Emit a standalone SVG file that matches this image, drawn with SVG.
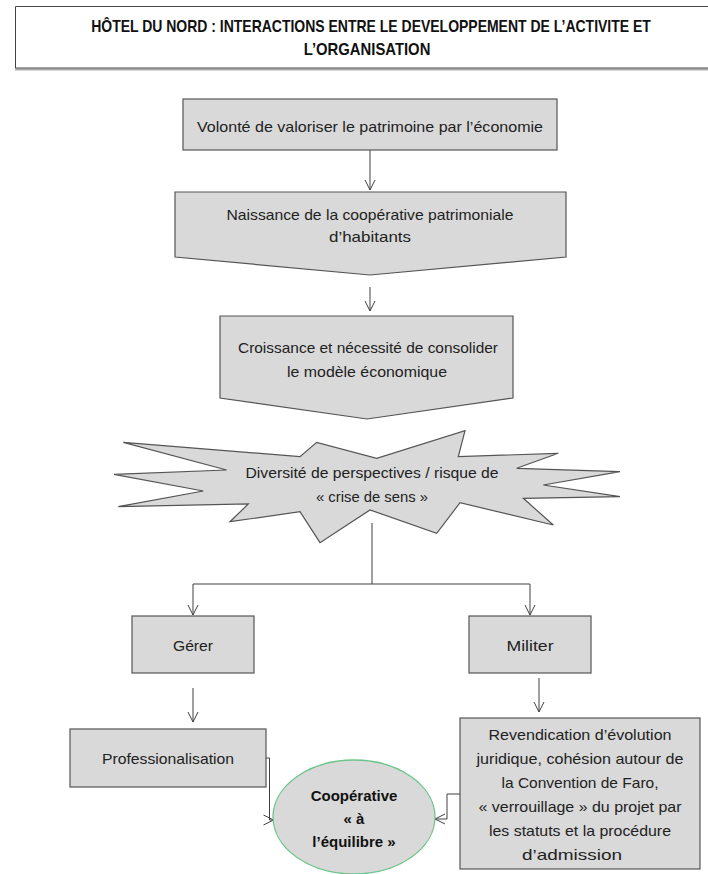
<svg xmlns="http://www.w3.org/2000/svg" width="708" height="874" viewBox="0 0 708 874">
<defs>
<marker id="arr" viewBox="0 0 12 12" refX="11" refY="6" markerWidth="12" markerHeight="12" markerUnits="userSpaceOnUse" orient="auto">
<path d="M1,1 L11,6 L1,11" fill="none" stroke="#404040" stroke-width="1"/>
</marker>
</defs>
<style>
.box{fill:#d9d9d9;stroke:#555;stroke-width:1.2}
.t{font-family:"Liberation Sans",Arial,sans-serif;font-size:15px;fill:#222;text-anchor:middle}
.tb{font-family:"Liberation Sans",Arial,sans-serif;font-size:15px;font-weight:bold;fill:#111;text-anchor:middle}
.title{font-family:"Liberation Sans",Arial,sans-serif;font-size:16.5px;font-weight:bold;fill:#111;text-anchor:middle}
.c{fill:none;stroke:#404040;stroke-width:1}
</style>
<rect width="708" height="874" fill="#fff"/>
<g id="title">
<line x1="15" y1="69.5" x2="708" y2="69.5" stroke="#aaa" stroke-width="2"/>
<path d="M708,6.5 H15.5 V68 H708" fill="none" stroke="#444" stroke-width="1"/>
<text class="title" transform="translate(371 32) scale(0.848 1)" x="0" y="0">HÔTEL DU NORD : INTERACTIONS ENTRE LE DEVELOPPEMENT DE L’ACTIVITE ET</text>
<text class="title" transform="translate(367 55) scale(0.9 1)" x="0" y="0">L’ORGANISATION</text>
</g>
<g id="connectors">
<line class="c" x1="370" y1="150" x2="370" y2="190" marker-end="url(#arr)"/>
<line class="c" x1="370" y1="287" x2="370" y2="311" marker-end="url(#arr)"/>
<polyline class="c" points="372,523 372,584"/>
<polyline class="c" points="193,584 530,584"/>
<line class="c" x1="193" y1="584" x2="193" y2="615" marker-end="url(#arr)"/>
<line class="c" x1="530" y1="584" x2="530" y2="615" marker-end="url(#arr)"/>
<line class="c" x1="193" y1="688" x2="193" y2="722" marker-end="url(#arr)"/>
<line class="c" x1="539" y1="678" x2="539" y2="712" marker-end="url(#arr)"/>
<polyline class="c" points="266,758 269.5,758 269.5,820 273.5,820" marker-end="url(#arr)"/>
<polyline class="c" points="460,794 447,794 447,819 435,819" marker-end="url(#arr)"/>
</g>
<g id="n1">
<rect class="box" x="183" y="99" width="374" height="51"/>
<text class="t" x="370" y="132" textLength="346" lengthAdjust="spacingAndGlyphs">Volonté de valoriser le patrimoine par l’économie</text>
</g>
<g id="n2">
<polygon class="box" points="175,192 566,192 566,257 370,275 175,257"/>
<text class="t" x="370" y="220" textLength="287" lengthAdjust="spacingAndGlyphs">Naissance de la coopérative patrimoniale</text>
<text class="t" x="370" y="242" textLength="82" lengthAdjust="spacingAndGlyphs">d’habitants</text>
</g>
<g id="n3">
<polygon class="box" points="220,316 513,316 513,398 367,419 220,398"/>
<text class="t" x="368" y="353" textLength="260" lengthAdjust="spacingAndGlyphs">Croissance et nécessité de consolider</text>
<text class="t" x="367" y="377" textLength="160" lengthAdjust="spacingAndGlyphs">le modèle économique</text>
</g>
<g id="n4">
<polygon class="box" points="123.3,442.3 300,456.7 316.7,442.3 376.7,458.3 465,430.7 458.3,456.7 558.3,453.3 516.7,468.3 620,471.7 543.3,485 620,496.7 523.3,498.3 553.3,525 460,502.7 436.7,533.3 370,510 320,542.7 300,511.7 230,521.7 248.3,504 118.3,506.7 203.3,491 114,474.3 226.7,470"/>
<text class="t" x="372" y="478" textLength="253" lengthAdjust="spacingAndGlyphs">Diversité de perspectives / risque de</text>
<text class="t" x="372" y="502" textLength="112" lengthAdjust="spacingAndGlyphs">« crise de sens »</text>
</g>
<g id="n5">
<rect class="box" x="132" y="616" width="122" height="57"/>
<text class="t" x="193" y="651" textLength="40" lengthAdjust="spacingAndGlyphs">Gérer</text>
</g>
<g id="n6">
<rect class="box" x="469" y="616" width="122" height="57"/>
<text class="t" x="530" y="651" textLength="47" lengthAdjust="spacingAndGlyphs">Militer</text>
</g>
<g id="n7">
<rect class="box" x="70" y="729" width="196" height="58"/>
<text class="t" x="168" y="764" textLength="132" lengthAdjust="spacingAndGlyphs">Professionalisation</text>
</g>
<g id="n8">
<rect class="box" x="460" y="718" width="240" height="151"/>
<text class="t" x="580" y="740" textLength="183" lengthAdjust="spacingAndGlyphs">Revendication d’évolution</text>
<text class="t" x="580" y="764" textLength="207" lengthAdjust="spacingAndGlyphs">juridique, cohésion autour de</text>
<text class="t" x="580" y="788" textLength="157" lengthAdjust="spacingAndGlyphs">la Convention de Faro,</text>
<text class="t" x="580" y="812" textLength="203" lengthAdjust="spacingAndGlyphs">« verrouillage » du projet par</text>
<text class="t" x="580" y="836" textLength="182" lengthAdjust="spacingAndGlyphs">les statuts et la procédure</text>
<text class="t" x="572" y="860" textLength="100" lengthAdjust="spacingAndGlyphs">d’admission</text>
</g>
<g id="n9">
<ellipse cx="354" cy="817" rx="81" ry="57" fill="#d9d9d9" stroke="#6cc58a" stroke-width="1.3"/>
<text class="tb" x="354" y="801">Coopérative</text>
<text class="tb" x="354" y="824">« à</text>
<text class="tb" x="354" y="847">l’équilibre »</text>
</g>
</svg>
